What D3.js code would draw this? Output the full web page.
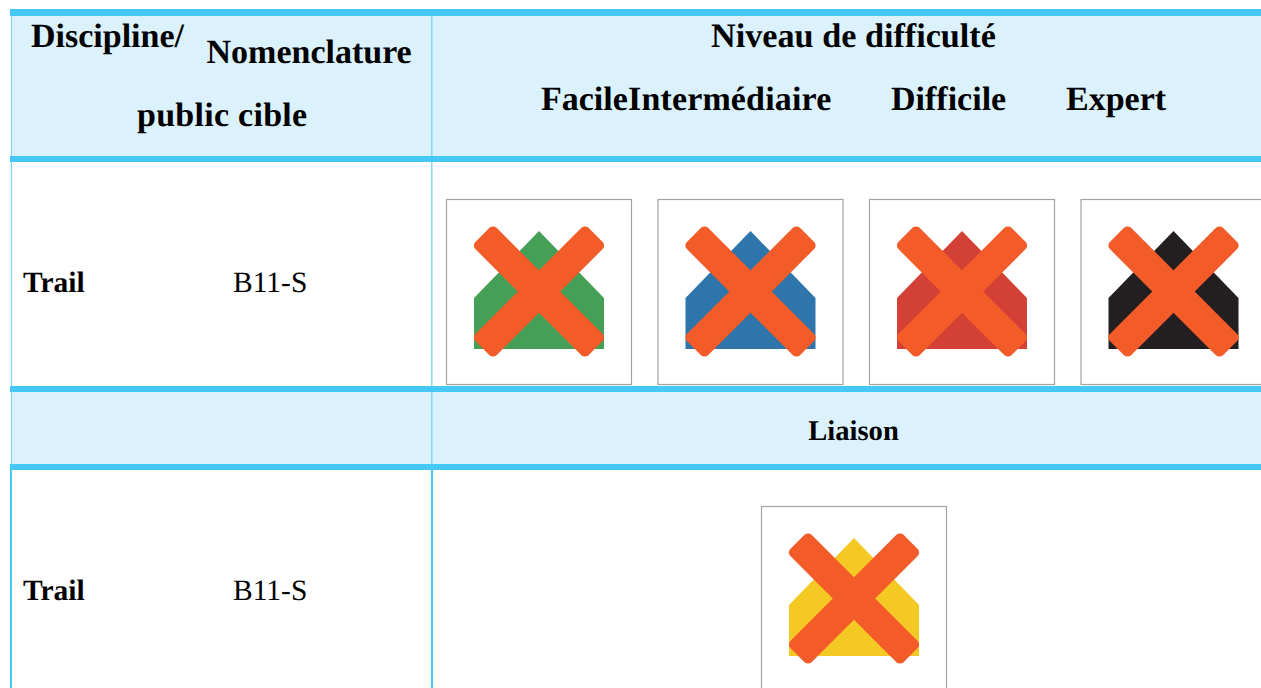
<!DOCTYPE html>
<html>
<head>
<meta charset="utf-8">
<script src="https://cdn.jsdelivr.net/npm/d3@7"></script>
<style>
  html, body { margin: 0; padding: 0; background: #fff; overflow: hidden; }
  text { font-family: "Liberation Serif", serif; fill: #000; text-rendering: geometricPrecision; }
</style>
</head>
<body>
<div id="table"></div>
<script>
// table content
var levels = ["Facile", "Intermédiaire", "Difficile", "Expert"];
var levelColors = ["#469f57", "#2e75ab", "#d34035", "#231f20"];
var liaisonColor = ["#f5c924"];
var rowLabels = ["Trail", "Trail"];
var rowCodes = ["B11-S", "B11-S"];

var width = 1261, height = 688;
var blue = "#45c8f6", pale = "#dbf2fd", cross = "#f35b29";

var svg = d3.select("#table")
  .append("svg")
    .attr("width", width)
    .attr("height", height)
    .style("display", "block");

// shaded rows
svg.append("rect").attr("x", 11).attr("y", 16).attr("width", width - 11).attr("height", 140).attr("fill", pale);
svg.append("rect").attr("x", 11).attr("y", 392).attr("width", width - 11).attr("height", 72).attr("fill", pale);

// vertical rules, thin above the last row and heavier in it
[[11.5, 9, 464, "#7fd6f8", 1.2], [431.8, 9, 464, "#7fd6f8", 1.4],
 [11, 464, height, blue, 2], [432, 464, height, blue, 2]].forEach(function (v) {
  svg.append("line")
    .attr("x1", v[0]).attr("x2", v[0])
    .attr("y1", v[1]).attr("y2", v[2])
    .attr("stroke", v[3])
    .attr("stroke-width", v[4]);
});

// thick horizontal rules
[[9, 7], [156, 6], [386, 6], [464, 6]].forEach(function (h) {
  svg.append("rect")
    .attr("x", 10).attr("y", h[0])
    .attr("width", width - 10).attr("height", h[1])
    .attr("fill", blue);
});

// header text
function label(x, y, str, size, bold, anchor, spacing) {
  svg.append("text")
    .attr("x", x).attr("y", y)
    .attr("font-size", size)
    .attr("font-weight", bold ? "bold" : "normal")
    .attr("text-anchor", anchor || "start")
    .attr("letter-spacing", spacing || 0)
    .text(str);
}
label(31, 47, "Discipline/", 34, true);
label(206.5, 63, "Nomenclature", 34, true);
label(137, 126, "public cible", 34, true, "start", 0.27);
label(853.5, 47, "Niveau de difficulté", 34.2, true, "middle");

var levelX = [541, 628, 891, 1066];
var levelSpacing = [0, 0.15, 0, 0];
levels.forEach(function (d, i) {
  label(levelX[i], 110, d, 34, true, "start", levelSpacing[i]);
});

label(853.5, 440, "Liaison", 28.6, true, "middle");

// body rows
rowLabels.forEach(function (d, i) {
  var y = [291.7, 599.7][i];
  label(23, y, d, 29.5, true);
  label(233, y, rowCodes[i], 29.5, false);
});

// sign columns
var signX = d3.scaleBand()
  .domain(levels)
  .range([446, 1266.5])
  .paddingInner(25.5 / 211.5)
  .paddingOuter(0);

// sign local units: 0..186 square
function drawSign(x, y, color) {
  var size = signX.bandwidth();
  var g = svg.append("g").attr("transform", "translate(" + x + "," + y + ")");
  g.append("rect")
    .attr("x", 0.5).attr("y", 0.5)
    .attr("width", size - 1).attr("height", size - 1)
    .attr("fill", "#fff")
    .attr("stroke", "#a3a3a3")
    .attr("stroke-width", 1.2);
  g.append("path")
    .attr("d", "M28,150V99L93,32L158,99V150Z")
    .attr("fill", color);
  [45, -45].forEach(function (a) {
    g.append("rect")
      .attr("x", -80).attr("y", -15)
      .attr("width", 160).attr("height", 30)
      .attr("rx", 5)
      .attr("transform", "translate(93,92.5) rotate(" + a + ")")
      .attr("fill", cross);
  });
}

levels.forEach(function (d, i) {
  drawSign(signX(d), 199, levelColors[i]);
});
drawSign(761, 506, liaisonColor[0]);
</script>
</body>
</html>
